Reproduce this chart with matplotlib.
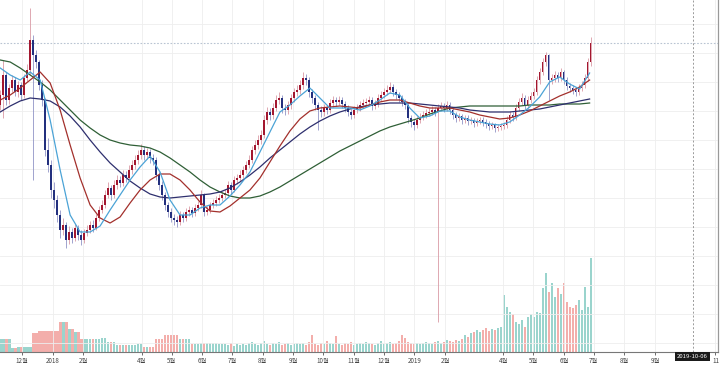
import matplotlib
matplotlib.use("Agg")
import matplotlib.pyplot as plt
import matplotlib.dates as mdates
import numpy as np
import pandas as pd

plt.rcParams['font.family'] = ['Noto Sans CJK KR', 'DejaVu Sans']

# ---- candle data (one candle every ~3 days, price in chart units) ----
opens = [255, 265, 285, 260, 272, 280, 268, 275, 265, 282, 290, 320, 305, 298, 275, 260, 210, 195, 170, 160,
         145, 130, 135, 120, 128, 122, 132, 125, 120, 127, 130, 135, 132, 142, 150, 155, 165, 172, 165, 175,
         180, 177, 185, 182, 190, 195, 200, 205, 210, 205, 208, 202, 200, 185, 175, 165, 155, 148, 142, 140,
         138, 145, 142, 148, 150, 147, 152, 155, 165, 148, 150, 155, 157, 160, 162, 165, 167, 175, 170, 180,
         182, 185, 190, 195, 200, 210, 215, 220, 225, 240, 248, 245, 252, 260, 262, 252, 250, 255, 262, 268,
         270, 275, 282, 280, 268, 262, 255, 250, 248, 252, 250, 257, 260, 258, 260, 256, 252, 248, 245, 250,
         252, 255, 257, 258, 260, 254, 256, 262, 265, 268, 270, 273, 268, 265, 262, 258, 255, 242, 238, 235,
         240, 243, 245, 247, 248, 250, 248, 252, 254, 252, 255, 250, 245, 242, 244, 240, 242, 239, 240, 237,
         239, 240, 238, 236, 234, 235, 232, 233, 234, 235, 240, 245, 243, 252, 258, 262, 255, 260, 264, 268,
         280, 288, 298, 305, 280, 282, 285, 282, 288, 280, 274, 272, 270, 268, 272, 275, 282, 298]
closes = [265, 285, 260, 272, 280, 268, 275, 265, 282, 290, 320, 305, 298, 275, 260, 210, 195, 170, 160, 145,
          130, 135, 120, 128, 122, 132, 125, 120, 127, 130, 135, 132, 142, 150, 155, 165, 172, 165, 175, 180,
          177, 185, 182, 190, 195, 200, 205, 210, 205, 208, 202, 200, 185, 175, 165, 155, 148, 142, 140, 138,
          145, 142, 148, 150, 147, 152, 155, 165, 148, 150, 155, 157, 160, 162, 165, 167, 175, 170, 180, 182,
          185, 190, 195, 200, 210, 215, 220, 225, 240, 248, 245, 252, 260, 262, 252, 250, 255, 262, 268, 270,
          275, 282, 280, 268, 262, 255, 250, 248, 252, 250, 257, 260, 258, 260, 256, 252, 248, 245, 250, 252,
          255, 257, 258, 260, 254, 256, 262, 265, 268, 270, 273, 268, 265, 262, 258, 255, 242, 238, 235, 240,
          243, 245, 247, 248, 250, 248, 252, 254, 252, 255, 250, 245, 242, 244, 240, 242, 239, 240, 237, 239,
          240, 238, 236, 234, 235, 232, 233, 234, 235, 240, 245, 243, 252, 258, 262, 255, 260, 264, 268, 280,
          288, 298, 305, 280, 282, 285, 282, 288, 280, 274, 272, 270, 268, 272, 275, 282, 298, 317]
highs = [270, 300, 288, 276, 285, 283, 279, 278, 286, 296, 352, 325, 310, 300, 280, 262, 222, 200, 178, 165,
         150, 142, 138, 134, 132, 136, 135, 130, 131, 135, 139, 140, 146, 154, 160, 170, 178, 175, 180, 185,
         184, 190, 189, 195, 200, 205, 210, 216, 214, 212, 211, 206, 203, 188, 179, 168, 158, 152, 146, 144,
         149, 148, 152, 154, 153, 156, 159, 170, 167, 154, 158, 161, 164, 166, 169, 171, 179, 178, 184, 186,
         190, 194, 199, 205, 214, 220, 225, 230, 245, 253, 252, 257, 265, 268, 265, 256, 259, 266, 272, 275,
         280, 288, 286, 283, 271, 265, 258, 254, 256, 255, 261, 264, 263, 264, 263, 259, 255, 251, 254, 256,
         259, 261, 262, 264, 263, 260, 266, 269, 272, 275, 278, 276, 271, 268, 265, 261, 257, 245, 241, 244,
         247, 249, 251, 252, 254, 253, 256, 258, 257, 259, 258, 252, 248, 247, 246, 245, 245, 243, 242, 242,
         243, 243, 241, 239, 238, 237, 236, 237, 238, 244, 249, 248, 256, 262, 267, 265, 264, 268, 272, 284,
         292, 302, 308, 306, 286, 289, 288, 292, 290, 283, 277, 275, 273, 276, 279, 286, 302, 323]
lows = [250, 242, 255, 256, 268, 264, 263, 260, 262, 279, 286, 180, 292, 270, 254, 204, 188, 162, 152, 138,
        122, 125, 112, 116, 117, 119, 120, 115, 117, 124, 127, 128, 130, 139, 147, 152, 162, 160, 162, 171,
        173, 174, 178, 179, 186, 191, 196, 201, 200, 201, 197, 195, 180, 170, 160, 150, 143, 138, 135, 133,
        135, 138, 139, 144, 143, 144, 149, 152, 144, 145, 147, 152, 154, 157, 159, 162, 164, 166, 168, 176,
        179, 182, 187, 192, 197, 206, 211, 216, 222, 236, 240, 241, 249, 256, 247, 245, 246, 251, 258, 264,
        266, 271, 275, 263, 257, 250, 230, 243, 244, 246, 247, 253, 254, 255, 252, 248, 244, 241, 242, 247,
        249, 252, 254, 255, 250, 251, 253, 259, 262, 265, 267, 264, 261, 258, 254, 251, 237, 233, 230, 232,
        237, 240, 242, 244, 245, 244, 38, 249, 248, 249, 246, 241, 238, 239, 236, 237, 235, 236, 233, 234,
        236, 234, 232, 230, 231, 228, 229, 230, 231, 232, 237, 239, 240, 249, 255, 251, 252, 257, 261, 265,
        276, 285, 294, 260, 276, 278, 278, 279, 276, 270, 268, 266, 264, 265, 269, 272, 279, 294]
volumes = [13, 13, 13, 13, 4, 4, 5, 5, 5, 5, 5, 19, 19, 21, 21, 21, 21, 21, 21, 21,
           30, 30, 30, 23, 23, 20, 20, 13, 13, 13, 13, 13, 13, 13, 14, 14, 10, 10, 10, 7,
           7, 7, 7, 7, 7, 7, 8, 8, 5, 5, 5, 5, 13, 13, 13, 17, 17, 17, 17, 17,
           13, 13, 13, 13, 8, 8, 8, 9, 9, 9, 9, 9, 9, 8, 8, 8, 7, 9, 6, 8,
           7, 8, 7, 9, 10, 8, 7, 9, 11, 8, 7, 9, 8, 10, 7, 8, 9, 7, 8, 9,
           8, 9, 7, 10, 17, 8, 7, 9, 8, 11, 9, 8, 16, 8, 7, 9, 8, 10, 7, 8,
           9, 8, 10, 9, 8, 7, 9, 11, 8, 9, 10, 8, 9, 11, 17, 14, 10, 9, 8, 9,
           8, 9, 10, 9, 8, 10, 11, 9, 10, 12, 11, 10, 12, 11, 13, 17, 15, 19, 20, 22,
           20, 22, 24, 21, 23, 22, 24, 25, 57, 45, 40, 38, 30, 28, 32, 25, 35, 38, 35, 40,
           39, 64, 79, 60, 69, 55, 64, 58, 69, 50, 45, 44, 47, 52, 42, 65, 45, 94]
candle_dates = pd.date_range('2017-11-09', '2019-06-28', periods=len(closes))

ma_fast = [292, 285, 280, 288, 280, 240, 190, 145, 128, 128, 134, 150, 165, 180, 193, 204, 188, 160, 145, 145,
           152, 155, 155, 164, 175, 188, 208, 228, 248, 255, 264, 272, 262, 252, 252, 252, 250, 254, 260, 267,
           265, 252, 242, 244, 249, 249, 243, 240, 238, 236, 235, 238, 245, 253, 263, 278, 283, 276, 271, 287]
ma_mid = [260, 265, 272, 280, 288, 277, 250, 215, 182, 155, 142, 137, 143, 157, 170, 180, 186, 186, 180, 170,
          158, 149, 148, 154, 162, 170, 182, 198, 214, 229, 241, 249, 252, 253, 254, 253, 252, 255, 258, 260,
          260, 257, 254, 252, 252, 252, 250, 248, 245, 243, 241, 242, 245, 249, 254, 259, 264, 268, 273, 280]
ma_slow = [248, 254, 259, 262, 261, 259, 253, 244, 233, 220, 208, 197, 188, 179, 172, 166, 163, 162, 163, 164,
           165, 166, 168, 172, 178, 185, 193, 202, 210, 218, 226, 233, 239, 244, 248, 251, 253, 255, 256, 257,
           257, 257, 256, 255, 254, 253, 252, 250, 249, 248, 248, 248, 249, 250, 251, 253, 255, 257, 259, 261]
ma_long = [300, 298, 292, 285, 278, 270, 260, 250, 240, 232, 225, 220, 217, 215, 214, 212, 208, 202, 195, 188,
           180, 173, 168, 164, 162, 162, 164, 168, 173, 179, 185, 191, 197, 203, 209, 214, 219, 224, 229, 233,
           236, 239, 242, 246, 249, 252, 253, 254, 254, 254, 254, 254, 254, 255, 255, 255, 256, 256, 256, 257]
ma_dates = pd.date_range('2017-11-09', '2019-06-27', periods=len(ma_fast))

# ---- axis labels ----
tick_dates = ['2017-12-01', '2018-01-01', '2018-02-01', '2018-04-01', '2018-05-01', '2018-06-01',
              '2018-07-01', '2018-08-01', '2018-09-01', '2018-10-01', '2018-11-01', '2018-12-01',
              '2019-01-01', '2019-02-01', '2019-04-01', '2019-05-01', '2019-06-01', '2019-07-01',
              '2019-08-01', '2019-09-01', '2019-11-01']
tick_labels = ['12월', '2018', '2월', '4월', '5월', '6월', '7월', '8월', '9월', '10월', '11월', '12월',
               '2019', '2월', '4월', '5월', '6월', '7월', '8월', '9월', '11']
cross_date = '2019-10-09'

up_body, dn_body = '#a3172f', '#23307e'
up_wick, dn_wick = '#d99aa5', '#9094c6'
vol_up, vol_dn = '#8fd0c8', '#f2a5a2'

fig = plt.figure(figsize=(7.2, 3.65), dpi=100)
ax = fig.add_axes([0, 13 / 365, 718 / 720, 352 / 365])
vax = ax.twinx()
ax.set_zorder(vax.get_zorder() + 1)
ax.patch.set_visible(False)

o = np.array(opens, float)
c = np.array(closes, float)
h = np.array(highs, float)
l = np.array(lows, float)
xd = mdates.date2num(candle_dates)
up = c >= o

# volume: wide blocks early on, thinner bars later
vol_w = np.where(candle_dates < pd.Timestamp('2018-07-20'), 2.8, 2.2)
vax.bar(xd, volumes, width=vol_w, color=np.where(up, vol_up, vol_dn), alpha=0.9, linewidth=0)
vax.set_ylim(0, 352)
vax.set_yticks([])

# candles
ax.vlines(xd, l, h, colors=np.where(up, up_wick, dn_wick), linewidth=0.6, zorder=2)
body_bot = np.minimum(o, c)
body_h = np.maximum(np.abs(c - o), 0.8)
ax.bar(xd, body_h, bottom=body_bot, width=1.5, color=np.where(up, up_body, dn_body), linewidth=0, zorder=3)

# moving averages
md = mdates.date2num(ma_dates)
ax.plot(md, ma_long, color='#2f5f36', lw=0.9, zorder=4)
ax.plot(md, ma_slow, color='#2e2f6e', lw=0.9, zorder=4)
ax.plot(md, ma_mid, color='#a3302c', lw=0.9, zorder=4)
ax.plot(md, ma_fast, color='#4ba3d6', lw=0.9, zorder=4)

# grid
tick_num = mdates.date2num(pd.to_datetime(tick_dates))
for t in tick_num:
    ax.axvline(t, color='#eeeeee', lw=0.6, zorder=0)
for yv in range(17, 360, 29):
    ax.axhline(yv, color='#eeeeee', lw=0.6, zorder=0)

# last price line and crosshair
ax.axhline(closes[-1], color='#b8c4d2', lw=0.8, ls=(0, (1.5, 1.5)), zorder=1)
cx = mdates.date2num(pd.Timestamp(cross_date))
ax.axvline(cx, color='#9a9a9a', lw=0.7, ls=(0, (2, 2)), zorder=1)

x0 = mdates.date2num(pd.Timestamp('2017-12-01')) - 22.2
ax.set_xlim(x0, x0 + 724.8)
ax.set_ylim(8, 360)
vax.set_xlim(x0, x0 + 724.8)

ax.set_xticks(tick_num)
ax.set_xticklabels(tick_labels, fontsize=4.5, color='#444444')
ax.tick_params(axis='x', length=2, width=0.6, color='#555555', pad=1.5)
ax.set_yticks([])
for s in ['top', 'left']:
    ax.spines[s].set_visible(False)
    vax.spines[s].set_visible(False)
ax.spines['bottom'].set_color('#777777')
ax.spines['bottom'].set_linewidth(0.8)
ax.spines['right'].set_color('#999999')
vax.spines['right'].set_color('#999999')
vax.spines['bottom'].set_visible(False)

ax.text(cx, -0.005, '2019-10-06', transform=ax.get_xaxis_transform(), ha='center', va='top',
        fontsize=4.3, color='white', zorder=10,
        bbox=dict(boxstyle='square,pad=0.35', fc='#1b1b1b', ec='none'))

fig.savefig('out.png', dpi=100)
